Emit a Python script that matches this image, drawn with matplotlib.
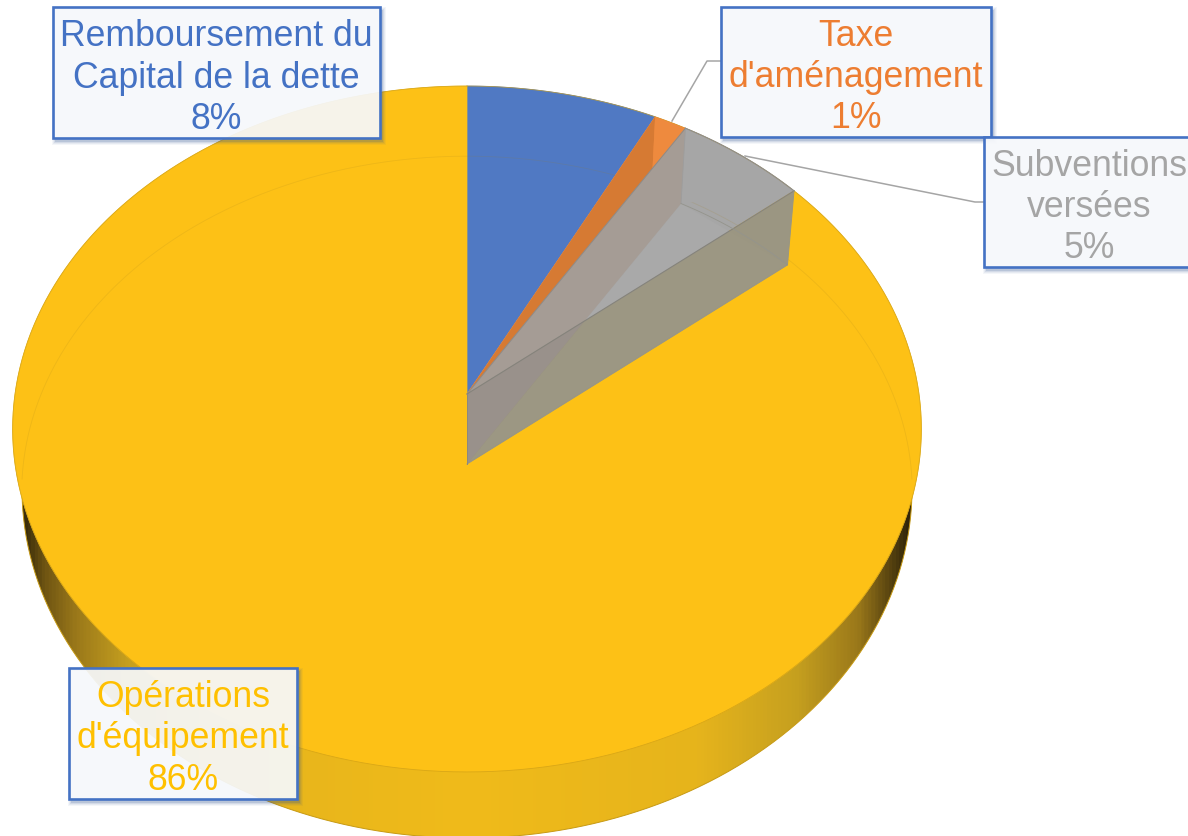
import numpy as np
import matplotlib
matplotlib.use("Agg")
import matplotlib.pyplot as plt
from matplotlib.colors import LinearSegmentedColormap
from matplotlib.patches import PathPatch, Polygon, Rectangle
from matplotlib.path import Path

# ---- data ----
categories = ["Remboursement du\nCapital de la dette", "Taxe\nd'aménagement",
              "Subventions\nversées", "Opérations\nd'équipement"]
values = [7.5, 1.3, 5.2, 86.0]
slice_colors = ["#5079c3", "#ed883c", "#a6a6a6", "#fdc116"]
text_colors = ["#4472c4", "#ed7d31", "#a5a5a5", "#ffc000"]

# ---- layout ----
boxes = [(53, 8, 380, 139), (721, 8, 991, 138), (984, 138, 1194, 268), (69, 669, 297, 800)]
CX, TOP_Y, DROP = 467, 395, 70
A_X, B_Y, PERSP = 452.0, 339.4, 0.102
LOWER_SCALE = 0.98

plt.rcParams['font.family'] = ['Liberation Sans', 'DejaVu Sans']
fig = plt.figure(figsize=(11.88, 8.37), dpi=100)
ax = fig.add_axes([0, 0, 1, 1])
ax.axis('off')


def project(frac, scale=1.0, dy=0.0):
    """Slice fraction (clockwise from 12 o'clock) -> pixel on the tilted disc."""
    t = 2 * np.pi * np.asarray(frac, dtype=float)
    u, v = np.sin(t), np.cos(t)
    d = 1 + PERSP * v
    return np.column_stack([CX + scale * A_X * u / d,
                            TOP_Y + dy - scale * B_Y * v / d])


def crossing(p1, p2, p3, p4):
    m = np.column_stack([p2 - p1, p3 - p4])
    s = np.linalg.solve(m, p3 - p1)
    return p1 + s[0] * (p2 - p1)


def rect_path(x0, y0, x1, y1, reverse=False):
    pts = [(x0, y0), (x1, y0), (x1, y1), (x0, y1)]
    if reverse:
        pts = pts[::-1]
    return pts + [pts[0]]


fracs = np.cumsum([0] + values) / sum(values)
a = np.array([CX, TOP_Y], dtype=float)
b = np.array([CX, TOP_Y + DROP], dtype=float)
circle = np.linspace(0, 1, 721)

# side band with horizontal shading
low_t = np.linspace(0, 2 * np.pi, 721)
low_x, low_y = 467 + 445 * np.cos(low_t), 490 + 349 * np.sin(low_t)
side_cmap = LinearSegmentedColormap.from_list("side", [
    (0.00, "#332708"), (0.025, "#6e5412"), (0.06, "#9a781a"), (0.12, "#c6a01f"),
    (0.24, "#e6b41c"), (0.50, "#f0bb1a"), (0.76, "#e6b41c"), (0.87, "#c6a01f"),
    (0.94, "#9a781a"), (0.975, "#5a4510"), (1.00, "#2a2008")])
band = ax.imshow(np.linspace(0, 1, 900)[None, :], cmap=side_cmap, aspect='auto',
                 extent=(20, 914, 845, 420), zorder=1, interpolation='bilinear')
ax.set_xlim(0, 1188)
ax.set_ylim(837, 0)
band.set_clip_path(Polygon(np.column_stack([low_x, low_y]), closed=True, transform=ax.transData))
ax.plot(low_x, low_y, color="#c79a14", lw=0.7, zorder=1.5)

# top face, slices from the values
rim = project(circle)
for i, color in enumerate(slice_colors):
    arc = project(np.linspace(fracs[i], fracs[i + 1], 300))
    ax.add_patch(Polygon(np.vstack([a, arc]), closed=True, facecolor=color,
                         edgecolor=color, lw=0.5, zorder=2))
ax.plot(rim[:, 0], rim[:, 1], color="#c99c18", lw=0.6, alpha=0.7, zorder=2.2)

# faint far rim of the lower disc seen through the top face
far = project(np.linspace(-0.26, 0.26, 300), LOWER_SCALE, DROP)
ax.plot(far[:, 0], far[:, 1] - 6, color="#a08020", lw=0.6, alpha=0.16, zorder=2.3)

# notch walls and floor for the small slices
p_blue, p_or, p_gr = project(fracs[1:4])
q_blue, q_or, q_gr = project(fracs[1:4], LOWER_SCALE, DROP)
x_cross = crossing(a, p_gr, b, q_or)

ax.add_patch(Polygon(np.vstack([a, p_blue, q_blue, p_or]), closed=True,
                     facecolor="#d67a33", edgecolor="none", zorder=2.35))
ax.add_patch(Polygon(np.vstack([p_blue, p_or, q_blue]), closed=True,
                     facecolor="#ee8a3e", edgecolor="none", zorder=2.4))

ax.add_patch(Polygon(np.vstack([a, p_gr, q_gr, b]), closed=True,
                     facecolor="#a6a6a6", edgecolor="none", zorder=2.45))
ax.add_patch(Polygon(np.vstack([p_or, p_gr, q_or]), closed=True,
                     facecolor="#a6a6a6", edgecolor="none", zorder=2.5))
ax.add_patch(Polygon(np.vstack([b, q_or, q_gr]), closed=True,
                     facecolor="#a9a9a9", edgecolor="none", zorder=2.5))
ax.add_patch(Polygon(np.vstack([a, p_or, q_or, b]), closed=True,
                     facecolor="#a59c95", edgecolor="none", zorder=2.6))
ax.add_patch(Polygon(np.vstack([a, p_gr, q_gr, b]), closed=True,
                     facecolor="#958d6c", alpha=0.62, edgecolor="none", zorder=2.8))
ax.add_patch(Polygon(np.vstack([a, x_cross, b]), closed=True,
                     facecolor="#99918b", edgecolor="none", zorder=2.85))
ax.plot(*np.vstack([a, p_or]).T, color="#8f8a86", lw=0.7, zorder=2.9)
ax.plot(*np.vstack([a, p_gr]).T, color="#85837c", lw=0.8, zorder=2.9)
ax.plot(*np.vstack([b, q_gr, p_gr]).T, color="#9a9680", lw=0.7, zorder=2.9)
ax.plot(*np.vstack([a, b]).T, color="#8c8880", lw=0.7, zorder=2.9)
ax.plot(*np.vstack([q_or, p_or]).T, color="#9d9d9d", lw=0.6, zorder=2.9)
arc_floor = project(np.linspace(fracs[2], fracs[3], 60), LOWER_SCALE, DROP)
ax.plot(arc_floor[:, 0], arc_floor[:, 1], color="#94948c", lw=0.6, zorder=2.9)
arc_gr = project(np.linspace(fracs[2], fracs[3], 60))
ax.plot(arc_gr[:, 0], arc_gr[:, 1], color="#8e8e8e", lw=0.8, zorder=2.9)

# leader lines
ax.plot([672, 707, 721], [122, 62, 62], color="#a5a5a5", lw=1.1, zorder=3)
ax.plot([745, 975, 984], [157, 203, 203], color="#a5a5a5", lw=1.1, zorder=3)

# data labels in boxes with a soft shadow outside the box only
for (x0, y0, x1, y1), name, val, tc in zip(boxes, categories, values, text_colors):
    for grow, al in zip([7, 5, 3, 1], [0.05, 0.07, 0.10, 0.16]):
        outer = rect_path(x0 + 2 - grow / 2, y0 + 3 - grow / 2, x1 + 2 + grow / 2, y1 + 3 + grow / 2)
        inner = rect_path(x0, y0, x1, y1, reverse=True)
        codes = [Path.MOVETO, Path.LINETO, Path.LINETO, Path.LINETO, Path.CLOSEPOLY]
        ax.add_patch(PathPatch(Path(outer + inner, codes + codes), facecolor="#2f528f",
                               edgecolor="none", alpha=al, zorder=4))
    ax.add_patch(Rectangle((x0, y0), x1 - x0, y1 - y0, facecolor=(0.965, 0.972, 0.984, 0.93),
                           edgecolor="#4472c4", lw=1.9, zorder=4.1))
    ax.text((x0 + x1) / 2, (y0 + y1) / 2 + 4.5, f"{name}\n{val:.0f}%", color=tc, fontsize=25.7,
            ha='center', va='center', linespacing=1.235, zorder=5)

fig.savefig("out.png", dpi=100, facecolor="white")
